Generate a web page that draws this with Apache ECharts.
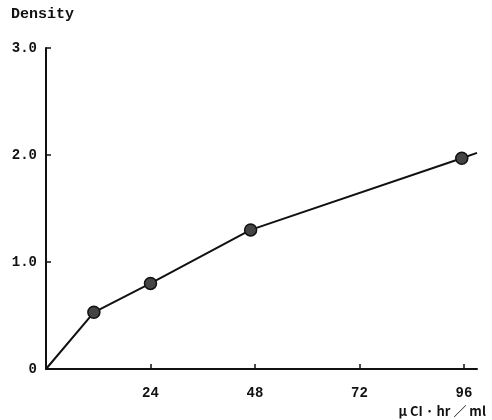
<!DOCTYPE html>
<html>
<head>
<meta charset="utf-8">
<script src="https://cdn.jsdelivr.net/npm/echarts@6/dist/echarts.min.js"></script>
<style>
  html, body { margin: 0; padding: 0; background: #fff; }
  #chart { width: 492px; height: 420px; }
</style>
</head>
<body>
<div id="chart"></div>
<script>
// Datos (dosis vs densidad)
const doseX = [0, 11, 24, 47, 95.5, 99];
const densityY = [0, 0.53, 0.80, 1.30, 1.97, 2.02];
// los extremos de la curva no llevan marcador
const hasMarker = [false, true, true, true, true, false];
const yTickLabels = { 0: '0', 1: '1.0', 2: '2.0', 3: '3.0' };
const xTickLabels = { 24: '24', 48: '48', 72: '72', 96: '96' };

const monoFont = '"Liberation Mono", "DejaVu Sans Mono", monospace';

const chart = echarts.init(document.getElementById('chart'));

const seriesData = doseX.map((x, i) => ({
    value: [x, densityY[i]],
    symbol: hasMarker[i] ? 'circle' : 'none'
}));

chart.setOption({
    animation: false,
    backgroundColor: '#fff',
    title: [
        {
            text: 'Density', left: 6, top: 2,
            textStyle: { fontFamily: monoFont, fontWeight: 'bold', fontSize: 15, color: '#111' }
        },
        {
            text: 'μ CI · hr ／ ml', right: 1, top: 398,
            textStyle: { fontFamily: '"Noto Sans CJK JP", sans-serif', fontWeight: 'bold', fontSize: 13, lineHeight: 16, color: '#111' }
        }
    ],
    grid: { left: 46, right: 15, top: 48, bottom: 51, containLabel: false },
    xAxis: {
        type: 'value',
        min: 0, max: 99, interval: 24,
        axisLine: { lineStyle: { color: '#111', width: 2 } },
        axisTick: { inside: true, length: 5, lineStyle: { color: '#111', width: 1.5 } },
        splitLine: { show: false },
        axisLabel: {
            margin: 17,
            showMinLabel: false, showMaxLabel: false,
            fontFamily: monoFont, fontWeight: 'bold', fontSize: 14, color: '#111',
            formatter: v => xTickLabels[v] || ''
        }
    },
    yAxis: {
        type: 'value',
        min: 0, max: 3, interval: 1,
        axisLine: { show: true, lineStyle: { color: '#111', width: 2 } },
        axisTick: { show: true, inside: true, length: 5, lineStyle: { color: '#111', width: 1.5 } },
        splitLine: { show: false },
        axisLabel: {
            margin: 9,
            fontFamily: monoFont, fontWeight: 'bold', fontSize: 14, color: '#111',
            formatter: v => yTickLabels[v] || ''
        }
    },
    series: [
        {
            type: 'line',
            data: seriesData,
            symbolSize: 12,
            lineStyle: { color: '#111', width: 2 },
            itemStyle: { color: '#444', borderColor: '#111', borderWidth: 1.5 }
        }
    ]
});
</script>
</body>
</html>
